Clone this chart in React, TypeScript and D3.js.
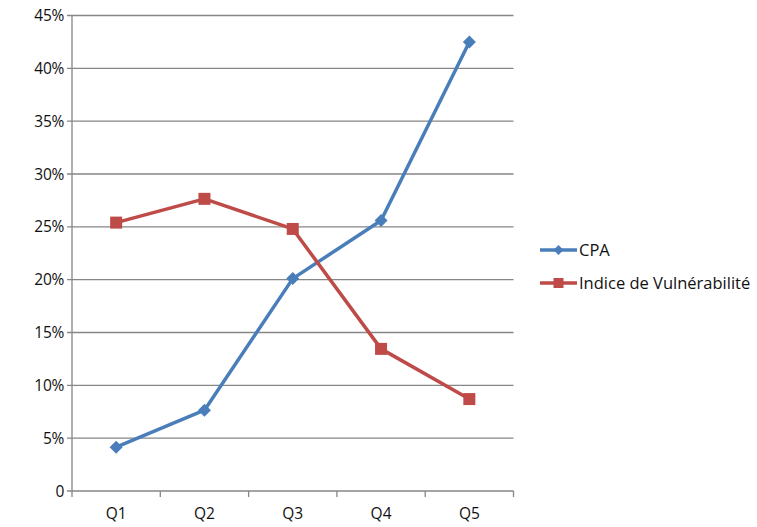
import React from "react";
import * as d3 from "d3";

const categories = ["Q1", "Q2", "Q3", "Q4", "Q5"];
const cpa = [4.15, 7.65, 20.1, 25.6, 42.5];
const indice = [25.4, 27.65, 24.8, 13.45, 8.7];
const yTicks = [0, 5, 10, 15, 20, 25, 30, 35, 40, 45];
const seriesNames = ["CPA", "Indice de Vulnérabilité"];

const W = 757, H = 527;
const left = 72, right = 513.5, top = 15.5, bottom = 491;
const blue = "#4A7EBB", red = "#BE4B48";
const font = "'Open Sans', 'DejaVu Sans', sans-serif";

export default function App() {
  const x = d3.scaleBand().domain(categories).range([left, right]);
  const y = d3.scaleLinear().domain([0, 45]).range([bottom, top]);
  const cx = (c: string) => (x(c) as number) + x.bandwidth() / 2;
  const line = d3.line<number>().x((_, i) => cx(categories[i])).y((d) => y(d));
  const diamond = (px: number, py: number, r = 6.5) => `M${px},${py - r}L${px + r},${py}L${px},${py + r}L${px - r},${py}Z`;
  const bandEdges = [...categories.map((c) => x(c) as number), right];
  return (
    <svg width={W} height={H} style={{ position: "absolute", left: 0, top: 0, background: "#fff" }} fontFamily={font}>
      {yTicks.map((t) => (
        <g key={t}>
          <line x1={left - 5} x2={right} y1={y(t)} y2={y(t)} stroke="#868686" strokeWidth={1.3} />
          <text x={left - 8} y={y(t)} dy="0.36em" textAnchor="end" fontSize={15.5} letterSpacing={-0.3} fill="#111">
            {t === 0 ? "0" : `${t}%`}
          </text>
        </g>
      ))}
      <line x1={left} x2={left} y1={top} y2={bottom} stroke="#868686" strokeWidth={1.3} />
      {bandEdges.map((e, i) => (
        <line key={i} x1={e} x2={e} y1={bottom} y2={bottom + 6} stroke="#868686" strokeWidth={1.3} />
      ))}
      {categories.map((c) => (
        <text key={c} x={cx(c)} y={bottom + 28} textAnchor="middle" fontSize={15.5} fill="#111">
          {c}
        </text>
      ))}
      <path d={line(cpa) as string} fill="none" stroke={blue} strokeWidth={3.5} strokeLinejoin="round" />
      <path d={line(indice) as string} fill="none" stroke={red} strokeWidth={3.5} strokeLinejoin="round" />
      {cpa.map((v, i) => (
        <path key={i} d={diamond(cx(categories[i]), y(v))} fill={blue} />
      ))}
      {indice.map((v, i) => (
        <rect key={i} x={cx(categories[i]) - 6} y={y(v) - 6} width={12} height={12} fill={red} />
      ))}
      <g>
        <line x1={540} x2={577} y1={250} y2={250} stroke={blue} strokeWidth={3.5} />
        <path d={diamond(558.5, 250, 5)} fill={blue} />
        <text x={579} y={250} dy="0.36em" fontSize={16.5} fill="#111">{seriesNames[0]}</text>
        <line x1={540} x2={577} y1={283} y2={283} stroke={red} strokeWidth={3.5} />
        <rect x={553.5} y={278} width={10} height={10} fill={red} />
        <text x={579} y={283} dy="0.36em" fontSize={16.5} fill="#111">{seriesNames[1]}</text>
      </g>
    </svg>
  );
}
